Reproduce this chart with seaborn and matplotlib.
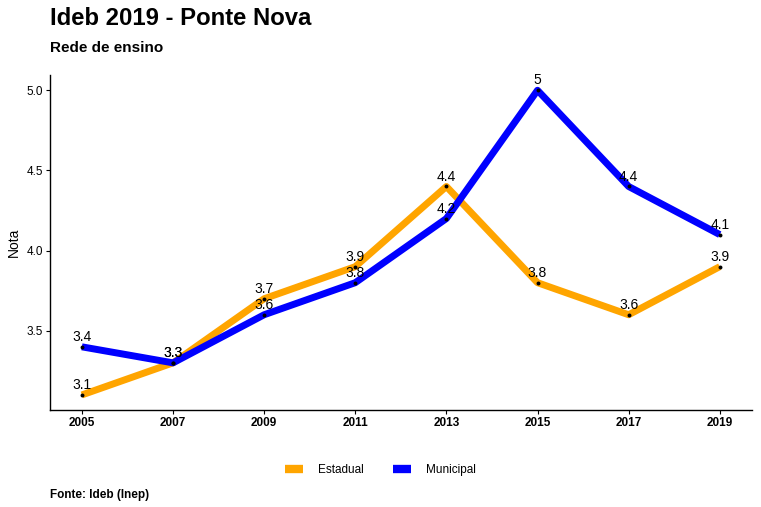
import numpy as np
import pandas as pd
import matplotlib.pyplot as plt
import seaborn as sns

anos = [2005, 2007, 2009, 2011, 2013, 2015, 2017, 2019]
estadual = [3.1, 3.3, 3.7, 3.9, 4.4, 3.8, 3.6, 3.9]
municipal = [3.4, 3.3, 3.6, 3.8, 4.2, 5.0, 4.4, 4.1]
redes = ["Estadual", "Municipal"]
cores = {"Estadual": "#FFA500", "Municipal": "#0000FF"}

df = pd.DataFrame({
    "ano": anos * 2,
    "nota": estadual + municipal,
    "rede": ["Estadual"] * len(anos) + ["Municipal"] * len(anos),
})

sns.set_style("white")
plt.rcParams["font.family"] = ["Liberation Sans", "DejaVu Sans"]
plt.rcParams["text.color"] = "black"
plt.rcParams["xtick.color"] = "black"
plt.rcParams["ytick.color"] = "black"
plt.rcParams["axes.labelcolor"] = "black"

fig = plt.figure(figsize=(7.61, 5.07), dpi=100)
ax = fig.add_axes([0.0657, 0.191, 0.922, 0.661])

sns.lineplot(data=df, x="ano", y="nota", hue="rede", hue_order=redes,
             palette=cores, linewidth=5, ax=ax, legend=False)
for ln in ax.lines:
    ln.set_solid_capstyle("butt")
    ln.set_solid_joinstyle("round")
ax.scatter(df["ano"], df["nota"], s=8, color="black", zorder=5, linewidths=0)

for _, r in df.iterrows():
    v = r["nota"]
    txt = f"{v:g}" if v != int(v) else f"{int(v)}"
    ax.annotate(txt, (r["ano"], v), xytext=(0, 2), textcoords="offset points",
                ha="center", va="bottom", fontsize=10, color="black")

ax.set_xlim(2005 - 0.7, 2019 + 0.7)
ax.set_ylim(3.1 - 0.095, 5.0 + 0.095)
ax.set_xticks(anos)
ax.set_yticks([3.5, 4.0, 4.5, 5.0])
ax.set_yticklabels(["3.5", "4.0", "4.5", "5.0"])
for lab in ax.get_xticklabels():
    lab.set_fontweight("bold")
ax.tick_params(axis="both", labelsize=8.5, length=3, width=0.8, color="black",
               direction="out", bottom=True, left=True, pad=2)
ax.set_xlabel("")
ax.set_ylabel("Nota", fontsize=10)
for s in ["top", "right"]:
    ax.spines[s].set_visible(False)
for s in ["left", "bottom"]:
    ax.spines[s].set_color("black")
    ax.spines[s].set_linewidth(1)

handles = [plt.Line2D([], [], color=cores[k], linewidth=6, solid_capstyle="butt") for k in redes]
fig.legend(handles, redes, loc="center", bbox_to_anchor=(0.5, 0.073),
           ncol=2, frameon=False, fontsize=8.5, handlelength=1.5,
           columnspacing=2.5, handletextpad=1.3)

fig.text(0.0657, 0.963, "Ideb 2019 - Ponte Nova", fontsize=17.2, fontweight="bold", va="center")
fig.text(0.0657, 0.905, "Rede de ensino", fontsize=11, fontweight="bold", va="center")
fig.text(0.0657, 0.023, "Fonte: Ideb (Inep)", fontsize=8.5, fontweight="bold", va="center")

fig.savefig("out.png", dpi=100, facecolor="white")
